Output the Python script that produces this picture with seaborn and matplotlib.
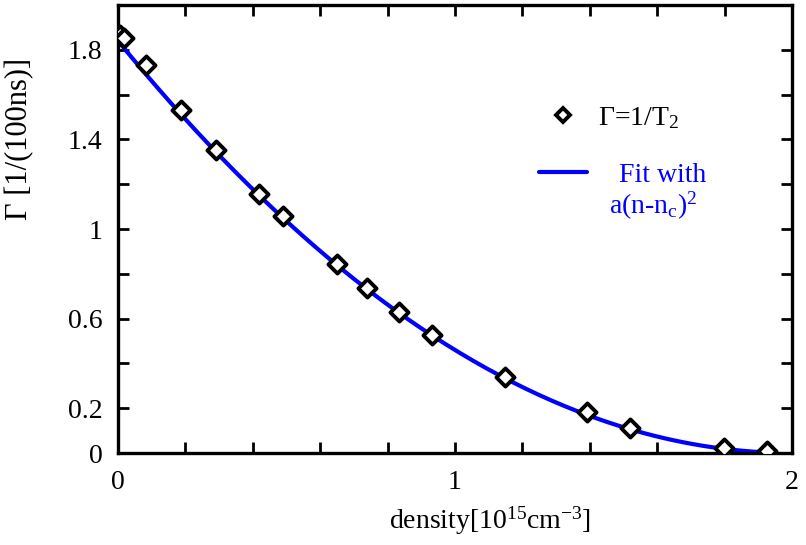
import numpy as np
import pandas as pd
import matplotlib
matplotlib.use('Agg')
import matplotlib.pyplot as plt
import seaborn as sns
from matplotlib.lines import Line2D

density = [0.006, 0.018, 0.083, 0.187, 0.291, 0.418, 0.490, 0.650, 0.739,
           0.834, 0.932, 1.148, 1.392, 1.519, 1.798, 1.926]
gamma = [1.866, 1.853, 1.733, 1.532, 1.354, 1.158, 1.056, 0.842, 0.735,
         0.628, 0.526, 0.339, 0.183, 0.111, 0.022, 0.009]

# fit parameters a(n-nc)^2
a_fit = 0.46
nc_fit = 2.0
fit_range = (0.0, 1.94)

xticks_labeled = [0, 1, 2]
yticks_labeled = [0, 0.2, 0.6, 1, 1.4, 1.8]

sns.set_style('ticks')
plt.rcParams['font.family'] = ['Liberation Serif', 'DejaVu Serif']
plt.rcParams['mathtext.fontset'] = 'custom'
plt.rcParams['mathtext.rm'] = 'Liberation Serif'
plt.rcParams['mathtext.it'] = 'Liberation Serif'
for k in ['text.color', 'axes.labelcolor', 'xtick.color', 'ytick.color', 'axes.edgecolor']:
    plt.rcParams[k] = 'black'

df = pd.DataFrame({'n': density, 'g': gamma})
nn = np.linspace(fit_range[0], fit_range[1], 200)
fit = pd.DataFrame({'n': nn, 'g': a_fit * (nn - nc_fit) ** 2})

fig = plt.figure(figsize=(8.06, 5.45), dpi=100)
ax = fig.add_axes([0.1464, 0.1688, 0.8362, 0.822])

sns.lineplot(data=fit, x='n', y='g', ax=ax, color='#0000ff', lw=3, zorder=2)
sns.scatterplot(data=df, x='n', y='g', ax=ax, marker='D', s=85,
                facecolor='white', edgecolor='black', linewidth=2.8, zorder=3)

ax.set_xlim(0, 2)
ax.set_ylim(0, 2)
xt = np.round(np.arange(0, 2.01, 0.2), 1)
ax.set_xticks(xt)
ax.set_xticklabels([('%g' % t) if t in xticks_labeled else '' for t in xt])
yt = np.round(np.arange(0, 2.01, 0.2), 1)
ax.set_yticks(yt)
ax.set_yticklabels([('%g' % t) if t in yticks_labeled else '' for t in yt])

for s in ax.spines.values():
    s.set_linewidth(2.4)
    s.set_visible(True)
ax.tick_params(direction='in', length=8, width=2, top=True, right=True,
               labelsize=20, pad=11)
ax.tick_params(axis='x', pad=12)

ax.set_xlabel('density[10$^{15}$cm$^{-3}$]', fontsize=20)
ax.xaxis.set_label_coords(0.552, -0.116)
ax.set_ylabel('Γ [1/(100ns)]', fontsize=22)
ax.yaxis.set_label_coords(-0.124, 0.70)

# legend: marker row and first line of the fit label
h1 = Line2D([], [], marker='D', ls='none', markersize=7.5, markerfacecolor='white',
            markeredgecolor='black', markeredgewidth=2.8)
h2 = Line2D([], [], color='#0000ff', lw=3)
leg = ax.legend([h1, h2], ['Γ=1/T$_{2}$', '   Fit with'],
                loc='upper left', bbox_to_anchor=(0.587, 0.833), frameon=False,
                fontsize=20, handlelength=1.75, labelspacing=1.15, handletextpad=0.4)
leg.get_texts()[1].set_color('#0000ff')
ax.text(0.729, 0.552, 'a(n-n$_{c}$)$^{2}$', transform=ax.transAxes, fontsize=20,
        color='#0000ff', va='center', ha='left')

fig.savefig('out.png', dpi=100)
